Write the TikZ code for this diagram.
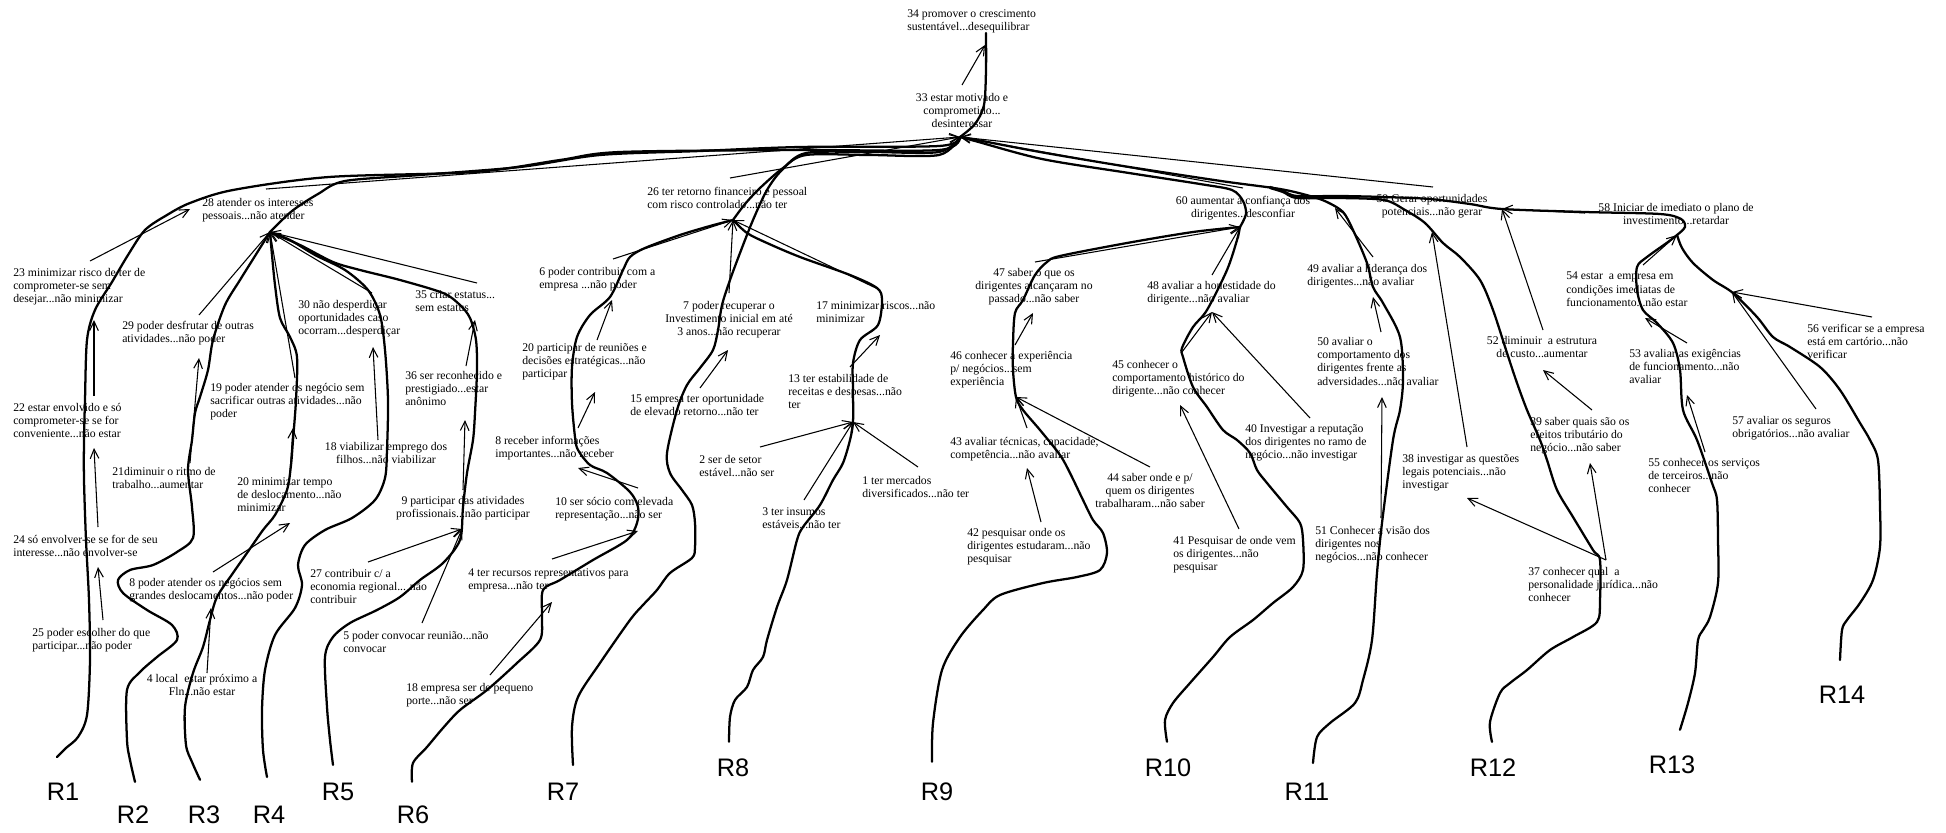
\documentclass[tikz,border=0pt]{standalone}
\usepackage{fontspec}
\setmainfont{Liberation Serif}
\newfontfamily\rfont{Liberation Sans}
\usetikzlibrary{arrows.meta}

\begin{document}
\begin{tikzpicture}[x=0.75pt, y=-0.75pt,
  txt/.style={inner sep=0pt, font=\fontsize{8.8}{9.9}\selectfont, align=left, anchor=north west},
  ctxt/.style={txt, align=center, anchor=north},
  rlab/.style={inner sep=0pt, font=\rfont\fontsize{19}{19}\selectfont},
  arr/.style={line width=0.8pt, -{Straight Barb[length=7pt,width=6.5pt]}},
  route/.style={line width=1.7pt, line join=round, line cap=round}]
\useasboundingbox (0,0) rectangle (1946,832);

\node[txt] (c34) at (907,9) {34 promover o crescimento\\sustentável...desequilibrar};
\node[ctxt] (c33) at (962,93) {33 estar motivado e\\comprometido...\\desinteressar};
\node[txt] (c28) at (202,198) {28 atender os interesses\\pessoais...não atender};
\node[txt] (c23) at (13,268) {23 minimizar risco de ter de\\comprometer-se sem\\desejar...não minimizar};
\node[txt] (c29) at (122,321) {29 poder desfrutar de outras\\atividades...não poder};
\node[txt] (c30) at (298,300) {30 não desperdiçar\\oportunidades caso\\ocorram...desperdiçar};
\node[txt] (c35) at (415,290) {35 criar estatus...\\sem estatus};
\node[txt] (c19) at (210,383) {19 poder atender os negócio sem\\sacrificar outras atividades...não\\poder};
\node[txt] (c36) at (405,371) {36 ser reconhecido e\\prestigiado...estar\\anônimo};
\node[txt] (c22) at (13,403) {22 estar envolvido e só\\comprometer-se se for\\conveniente...não estar};
\node[ctxt] (c18v) at (386,442) {18 viabilizar emprego dos\\filhos...não viabilizar};
\node[txt] (c21) at (112,467) {21diminuir o ritmo de\\trabalho...aumentar};
\node[txt] (c20m) at (237,477) {20 minimizar tempo\\de deslocamento...não\\minimizar};
\node[ctxt] (c9) at (463,496) {9 participar das atividades\\profissionais...não participar};
\node[txt] (c24) at (13,535) {24 só envolver-se se for de seu\\interesse...não envolver-se};
\node[txt] (c8a) at (129,578) {8 poder atender os negócios sem\\grandes deslocamentos...não poder};
\node[txt] (c27) at (310,569) {27 contribuir c/ a\\economia regional... não\\contribuir};
\node[txt] (c25) at (32,628) {25 poder escolher do que\\participar...não poder};
\node[txt] (c5) at (343,631) {5 poder convocar reunião...não\\convocar};
\node[ctxt] (c4l) at (202,674) {4 local\ \ estar próximo a\\Fln...não estar};
\node[txt] (c18e) at (406,683) {18 empresa ser de pequeno\\porte...não ser};
\node[txt] (c8r) at (495,436) {8 receber informações\\importantes...não receber};
\node[txt] (c10) at (555,497) {10 ser sócio com elevada\\representação...não ser};
\node[txt] (c4t) at (468,568) {4 ter recursos representativos para\\empresa...não ter};
\node[txt] (c26) at (647,187) {26 ter retorno financeiro e pessoal\\com risco controlado...não ter};
\node[txt] (c6) at (539,267) {6 poder contribuir com a\\empresa ...não poder};
\node[ctxt] (c7) at (729,301) {7 poder recuperar o\\Investimento inicial em até\\3 anos...não recuperar};
\node[txt] (c17) at (816,301) {17 minimizar riscos...não\\minimizar};
\node[txt] (c20p) at (522,343) {20 participar de reuniões e\\decisões estratégicas...não\\participar};
\node[txt] (c13) at (788,374) {13 ter estabilidade de\\receitas e despesas...não\\ter};
\node[txt] (c15) at (630,394) {15 empresa ter oportunidade\\de elevado retorno...não ter};
\node[txt] (c2) at (699,455) {2 ser de setor\\estável...não ser};
\node[txt] (c1) at (862,476) {1 ter mercados\\diversificados...não ter};
\node[txt] (c3) at (762,507) {3 ter insumos\\estáveis...não ter};
\node[ctxt] (c60) at (1243,196) {60 aumentar a confiança dos\\dirigentes...desconfiar};
\node[ctxt] (c59) at (1432,194) {59 Gerar oportunidades\\potenciais...não gerar};
\node[ctxt] (c47) at (1034,268) {47 saber o que os\\dirigentes alcançaram no\\passado...não saber};
\node[txt] (c48) at (1147,281) {48 avaliar a honestidade do\\dirigente...não avaliar};
\node[txt] (c49) at (1307,264) {49 avaliar a liderança dos\\dirigentes...não avaliar};
\node[txt] (c46) at (950,351) {46 conhecer a experiência\\p/ negócios...sem\\experiência};
\node[txt] (c45) at (1112,360) {45 conhecer o\\comportamento histórico do\\dirigente...não conhecer};
\node[txt] (c50) at (1317,337) {50 avaliar o\\comportamento dos\\dirigentes frente as\\adversidades...não avaliar};
\node[txt] (c43) at (950,437) {43 avaliar técnicas, capacidade,\\competência...não avaliar};
\node[txt] (c40) at (1245,424) {40 Investigar a reputação\\dos dirigentes no ramo de\\negócio...não investigar};
\node[ctxt] (c44) at (1150,473) {44 saber onde e p/\\quem os dirigentes\\trabalharam...não saber};
\node[txt] (c42) at (967,528) {42 pesquisar onde os\\dirigentes estudaram...não\\pesquisar};
\node[txt] (c41) at (1173,536) {41 Pesquisar de onde vem\\os dirigentes...não\\pesquisar};
\node[txt] (c51) at (1315,526) {51 Conhecer a visão dos\\dirigentes nos\\negócios...não conhecer};
\node[txt] (c38) at (1402,454) {38 investigar as questões\\legais potenciais...não\\investigar};
\node[ctxt] (c58) at (1676,203) {58 Iniciar de imediato o plano de\\investimento...retardar};
\node[txt] (c54) at (1566,272) {54 estar\ \ a empresa em\\condições imediatas de\\funcionamento...não estar};
\node[txt] (c56) at (1807,324) {56 verificar se a empresa\\está em cartório...não\\verificar};
\node[ctxt] (c52) at (1542,336) {52 diminuir\ \ a estrutura\\de custo...aumentar};
\node[txt] (c53) at (1629,349) {53 avaliar as exigências\\de funcionamento...não\\avaliar};
\node[txt] (c39) at (1530,417) {39 saber quais são os\\efeitos tributário do\\negócio...não saber};
\node[txt] (c57) at (1732,416) {57 avaliar os seguros\\obrigatórios...não avaliar};
\node[txt] (c55) at (1648,458) {55 conhecer os serviços\\de terceiros...não\\conhecer};
\node[txt] (c37) at (1528,567) {37 conhecer qual\ \ a\\personalidade jurídica...não\\conhecer};

\node[rlab] (r1) at (63,792) {R1};
\node[rlab] (r2) at (133,815) {R2};
\node[rlab] (r3) at (204,815) {R3};
\node[rlab] (r4) at (269,815) {R4};
\node[rlab] (r5) at (338,792) {R5};
\node[rlab] (r6) at (413,815) {R6};
\node[rlab] (r7) at (563,792) {R7};
\node[rlab] (r8) at (733,768) {R8};
\node[rlab] (r9) at (937,792) {R9};
\node[rlab] (r10) at (1168,768) {R10};
\node[rlab] (r11) at (1307,792) {R11};
\node[rlab] (r12) at (1493,768) {R12};
\node[rlab] (r13) at (1672,765) {R13};
\node[rlab] (r14) at (1842,695) {R14};

\coordinate (h33) at (960,137);
\coordinate (h28) at (270,232);
\coordinate (h26) at (733,220);
\coordinate (h13) at (853,422);
\coordinate (h9) at (462,529);
\coordinate (h60) at (1240,227);
\coordinate (h46) at (1016,397);
\coordinate (h48) at (1212,312);
\coordinate (h59) at (1502,209);
\coordinate (h58) at (1677,235);
\coordinate (h56) at (1732,292);

\draw[arr] ([shift={(77,-7)}]c23.north west) -- ([shift={(-12,11)}]c28.north west);
\draw[arr] ([shift={(81,-7)}]c22.north west) -- ([shift={(81,52)}]c23.north west);
\draw[arr] ([shift={(85,-8)}]c24.north west) -- ([shift={(81,45)}]c22.north west);
\draw[arr] ([shift={(71,-8)}]c25.north west) -- ([shift={(85,32)}]c24.north west);
\draw[arr] ([shift={(77,-6)}]c29.north west) -- (h28);
\draw[arr] ([shift={(78,-4)}]c21.north west) -- ([shift={(77,37)}]c29.north west);
\draw[arr] ([shift={(85,-5)}]c19.north west) -- (h28);
\draw[arr] ([shift={(74,-7)}]c30.north west) -- (h28);
\draw[arr] ([shift={(62,-7)}]c35.north west) -- (h28);
\draw[arr] ([shift={(53,-5)}]c20m.north west) -- ([shift={(83,45)}]c19.north west);
\draw[arr] ([shift={(-8,-2)}]c18v.north) -- ([shift={(75,47)}]c30.north west);
\draw[arr] ([shift={(61,-5)}]c36.north west) -- ([shift={(60,30)}]c35.north west);
\draw[arr] ([shift={(0,-6)}]c9.north) -- ([shift={(60,49)}]c36.north west);
\draw[arr] ([shift={(84,-6)}]c8a.north west) -- ([shift={(53,46)}]c20m.north west);
\draw[arr] ([shift={(5,-1)}]c4l.north) -- ([shift={(82,30)}]c8a.north west);
\draw[arr] ([shift={(58,-7)}]c27.north west) -- (h9);
\draw[arr] ([shift={(79,-8)}]c5.north west) -- (h9);
\draw[arr] ([shift={(83,-9)}]c10.north west) -- ([shift={(83,32)}]c8r.north west);
\draw[arr] ([shift={(84,-9)}]c4t.north west) -- ([shift={(83,34)}]c10.north west);
\draw[arr] ([shift={(84,-8)}]c18e.north west) -- ([shift={(84,34)}]c4t.north west);
\draw[arr] ([shift={(83,-8)}]c8r.north west) -- ([shift={(73,49)}]c20p.north west);
\draw[arr] ([shift={(75,-3)}]c20p.north west) -- ([shift={(73,33)}]c6.north west);
\draw[arr] ([shift={(74,-8)}]c6.north west) -- (h26);
\draw[arr] ([shift={(0,-8)}]c7.north) -- (h26);
\draw[arr] ([shift={(64,-11)}]c17.north west) -- (h26);
\draw[arr] ([shift={(70,-6)}]c15.north west) -- ([shift={(-1,49)}]c7.north);
\draw[arr] ([shift={(62,-7)}]c13.north west) -- ([shift={(64,34)}]c17.north west);
\draw[arr] ([shift={(61,-8)}]c2.north west) -- (h13);
\draw[arr] ([shift={(42,-7)}]c3.north west) -- (h13);
\draw[arr] ([shift={(56,-9)}]c1.north west) -- (h13);
\draw[arr] ([shift={(64,-9)}]c28.north west) -- (h33);
\draw[arr] ([shift={(83,-9)}]c26.north west) -- (h33);
\draw[arr] ([shift={(0,-8)}]c60.north) -- (h33);
\draw[arr] ([shift={(1,-7)}]c59.north) -- (h33);
\draw[arr] ([shift={(0,-8)}]c33.north) -- ([shift={(78,36)}]c34.north west);
\draw[arr] ([shift={(1,-6)}]c47.north) -- (h60);
\draw[arr] ([shift={(65,-6)}]c48.north west) -- (h60);
\draw[arr] ([shift={(66,-7)}]c49.north west) -- ([shift={(92,12)}]c60.north);
\draw[arr] ([shift={(64,-5)}]c50.north west) -- ([shift={(66,33)}]c49.north west);
\draw[arr] ([shift={(65,-6)}]c46.north west) -- ([shift={(-1,45)}]c47.north);
\draw[arr] ([shift={(77,-9)}]c43.north west) -- (h46);
\draw[arr] ([shift={(0,-6)}]c44.north) -- (h46);
\draw[arr] ([shift={(74,-6)}]c42.north west) -- ([shift={(77,31)}]c43.north west);
\draw[arr] ([shift={(70,-8)}]c45.north west) -- (h48);
\draw[arr] ([shift={(65,-6)}]c40.north west) -- (h48);
\draw[arr] ([shift={(66,-7)}]c41.north west) -- ([shift={(68,45)}]c45.north west);
\draw[arr] ([shift={(66,-8)}]c51.north west) -- ([shift={(65,60)}]c50.north west);
\draw[arr] ([shift={(1,-6)}]c52.north) -- (h59);
\draw[arr] ([shift={(-91,10)}]c58.north) -- (h59);
\draw[arr] ([shift={(65,-7)}]c38.north west) -- ([shift={(0,38)}]c59.north);
\draw[arr] ([shift={(62,-7)}]c39.north west) -- ([shift={(1,34)}]c52.north);
\draw[arr] ([shift={(78,-7)}]c37.north west) -- ([shift={(65,44)}]c38.north west);
\draw[arr] ([shift={(78,-7)}]c37.north west) -- ([shift={(60,46)}]c39.north west);
\draw[arr] ([shift={(77,-7)}]c54.north west) -- (h58);
\draw[arr] ([shift={(58,-6)}]c53.north west) -- ([shift={(79,46)}]c54.north west);
\draw[arr] ([shift={(57,-6)}]c55.north west) -- ([shift={(58,46)}]c53.north west);
\draw[arr] ([shift={(65,-7)}]c56.north west) -- (h56);
\draw[arr] ([shift={(84,-7)}]c57.north west) -- (h56);

\draw[route] plot[smooth] coordinates {([shift={(-6,-26)}]r1.north) (66,748) (78,737) (87,715) (90,660) (89,600) (86,540) (84,480) (84,440) (85,400) (87,340) (95,310) (112,282) (128,255) (145,230) (167,215) (190,203) (233,190) (329,177) (475,172) (560,160) (620,152) (800,150) (939,150) (h33)};
\draw[route] plot[smooth] coordinates {([shift={(2,-24)}]r2.north) (130,760) (127,740) (127,690) (140,672) (157,657) (177,640) (172,625) (147,610) (123,593) (118,580) (130,570) (153,565) (177,552) (193,538) (192,507) (188,470) (192,440) (195,413) (200,397) (208,370) (213,340) (225,305) (240,280) (255,256) (h28)};
\draw[route] plot[smooth] coordinates {([shift={(-4,-26)}]r3.north) (192,762) (186,745) (185,707) (193,673) (203,647) (210,620) (217,597) (233,573) (247,553) (263,530) (275,515) (287,490) (291,465) (293,440) (296,400) (297,357) (290,337) (280,318) (275,285) (272,255) (h28)};
\draw[route] plot[smooth] coordinates {([shift={(-2,-29)}]r4.north) (263,750) (262,710) (265,670) (275,635) (295,608) (302,585) (298,565) (305,545) (325,530) (352,518) (375,500) (385,478) (387,450) (388,400) (385,350) (380,315) (368,290) (345,270) (315,255) (290,240) (h28)};
\draw[route] plot[smooth] coordinates {([shift={(-5,-18)}]r5.north) (330,740) (327,707) (325,657) (333,637) (350,623) (377,610) (400,597) (420,580) (443,563) (460,540) (463,507) (467,473) (473,440) (475,413) (477,370) (476,340) (470,318) (460,305) (443,293) (400,280) (360,270) (333,262) (300,245) (h28)};
\draw[route] plot[smooth] coordinates {(h28) (292,211) (318,194) (345,181) (420,175) (520,167) (600,155) (700,151) (800,147) (939,146) (h33)};
\draw[route] plot[smooth] coordinates {([shift={(-1,-24)}]r6.north) (413,763) (427,747) (443,728) (460,710) (487,690) (517,663) (540,640) (542,617) (543,590) (560,580) (593,560) (627,540) (637,523) (638,507) (630,492) (607,473) (590,465) (578,450) (575,437) (572,403) (572,367) (577,337) (590,315) (610,297) (623,270) (630,257) (645,248) (680,235) (710,226) (h26)};
\draw[route] plot[smooth] coordinates {([shift={(10,-18)}]r7.north) (572,727) (578,697) (600,663) (630,620) (643,605) (657,590) (670,573) (692,558) (695,547) (695,523) (692,505) (682,490) (670,473) (667,453) (677,410) (687,385) (700,368) (713,350) (718,330) (722,305) (730,280) (740,253) (753,220) (767,190) (782,170) (806,153) (870,152) (939,152) (h33)};
\draw[route] plot[smooth] coordinates {([shift={(-4,-17)}]r8.north) (730,717) (735,700) (747,687) (753,670) (763,657) (767,640) (777,607) (787,580) (797,540) (803,527) (820,505) (833,480) (843,463) (850,440) (h13) (853,390) (853,363) (860,340) (878,325) (882,300) (877,288) (850,275) (800,257) (767,243) (747,233) (h26)};
\draw[route] plot[smooth] coordinates {(h26) (745,204) (760,188) (783,168) (806,155) (870,155) (939,155) (h33)};
\draw[route] plot[smooth] coordinates {([shift={(-5,-21)}]r9.north) (933,723) (942,670) (960,637) (983,610) (1000,595) (1043,583) (1077,577) (1100,570) (1107,553) (1103,533) (1093,520) (1083,500) (1070,473) (1060,455) (1040,430) (1023,410) (h46) (1013,370) (1013,343) (1015,313) (1023,300) (1035,275) (1047,262) (1060,256) (1127,243) (1193,232) (h60)};
\draw[route] plot[smooth] coordinates {([shift={(-1,-17)}]r10.north) (1165,720) (1173,703) (1190,683) (1213,657) (1230,637) (1253,620) (1273,603) (1293,587) (1303,570) (1303,540) (1300,523) (1287,507) (1267,483) (1257,470) (1250,453) (1237,440) (1223,430) (1207,407) (1193,387) (1183,357) (1182,348) (1193,327) (1207,310) (1227,270) (1237,240) (h60)};
\draw[route] plot[smooth] coordinates {(h60) (1246,214) (1243,201) (1232,190) (1200,184) (1129,173) (1042,159) (975,141) (h33)};
\draw[route] plot[smooth] coordinates {([shift={(6,-20)}]r11.north) (1317,737) (1330,723) (1355,703) (1363,680) (1372,640) (1377,573) (1382,523) (1393,440) (1400,410) (1403,380) (1400,337) (1383,303) (1373,287) (1367,263) (1353,230) (1343,212) (1327,202) (1310,196) (1280,189) (1221,181) (1123,166) (1040,152) (972,139) (h33)};
\draw[route] plot[smooth] coordinates {([shift={(-1,-17)}]r12.north) (1490,722) (1500,693) (1510,683) (1527,670) (1550,650) (1573,637) (1597,622) (1600,600) (1600,560) (1593,550) (1573,517) (1557,490) (1547,460) (1540,440) (1527,410) (1517,383) (1507,353) (1493,310) (1480,280) (1460,257) (1443,243) (1425,223) (1405,210) (1384,200) (1340,198) (1297,198) (1283,192) (1270,188)};
\draw[route] plot[smooth] coordinates {([shift={(8,-26)}]r13.north) (1688,703) (1695,673) (1698,640) (1703,630) (1710,617) (1718,583) (1718,540) (1717,500) (1712,483) (1697,440) (1683,410) (1680,370) (1673,343) (1657,323) (1643,310) (1637,290) (1637,267) (1647,257) (1668,242) (h58)};
\draw[route] plot[smooth] coordinates {([shift={(-2,-26)}]r14.north) (1842,630) (1847,620) (1860,603) (1873,580) (1880,547) (1880,507) (1878,460) (1870,440) (1860,423) (1840,390) (1820,367) (1790,347) (1773,337) (1757,317) (1733,293) (1713,280) (1693,263) (1682,248) (h58)};
\draw[route] plot[smooth] coordinates {(h58) (1685,227) (1681,219) (1660,214) (1585,212) (h59) (1470,204) (1430,199) (1384,197) (1340,196) (1297,196) (1283,191) (1270,187)};
\draw[route] plot[smooth] coordinates {(h33) (975,124) (984,105) (986,70) (986,33)};
\end{tikzpicture}
\end{document}
